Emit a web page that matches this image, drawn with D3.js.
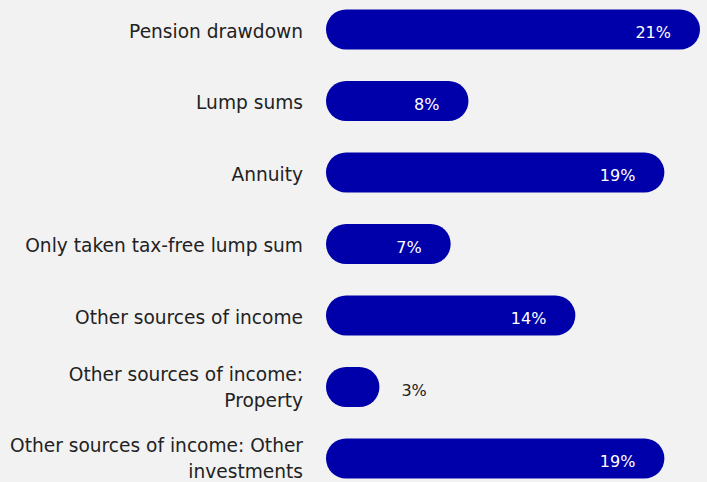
<!DOCTYPE html>
<html>
<head>
<meta charset="utf-8">
<script src="https://cdn.jsdelivr.net/npm/d3@7"></script>
<style>
  html, body { margin: 0; padding: 0; background: #f2f2f2; }
  svg { display: block; }
  text { font-family: "DejaVu Sans", "Open Sans", sans-serif; }
</style>
</head>
<body>
<svg id="chart" width="707" height="482"></svg>
<script>
// Retirement income sources (share of respondents, %)
const categories = [
  "Pension drawdown",
  "Lump sums",
  "Annuity",
  "Only taken tax-free lump sum",
  "Other sources of income",
  "Other sources of income:\nProperty",
  "Other sources of income: Other\ninvestments"
];
const values = [21, 8, 19, 7, 14, 3, 19];
const valueLabels = ["21%", "8%", "19%", "7%", "14%", "3%", "19%"];

const width = 707, height = 482;
const barStart = 326;
const labelRight = 303;
const barColor = "#0000aa";

const svg = d3.select("#chart");

const x = d3.scaleLinear()
  .domain([0, 21])
  .range([barStart, 700]);

const y = d3.scaleBand()
  .domain(categories)
  .range([-6.25, 494.25])
  .paddingInner(0.44)
  .paddingOuter(0.22);

const bh = y.bandwidth();

const rows = svg.selectAll("g.row")
  .data(categories.map((c, i) => ({ c, v: values[i], lbl: valueLabels[i] })))
  .join("g")
  .attr("class", "row");

// bars with fully rounded ends
rows.append("rect")
  .attr("x", x(0))
  .attr("y", d => y(d.c))
  .attr("width", d => x(d.v) - x(0))
  .attr("height", bh)
  .attr("rx", bh / 2)
  .attr("ry", bh / 2)
  .attr("fill", barColor);

// category labels, right-aligned, possibly on two lines
rows.append("text")
  .attr("text-anchor", "end")
  .attr("fill", "#222")
  .attr("font-size", 18.6)
  .each(function(d) {
    const lines = d.c.split("\n");
    const lh = 26;
    const cy = y(d.c) + bh / 2 + (lines.length > 1 ? 0.5 : 2);
    const t = d3.select(this);
    lines.forEach((ln, j) => {
      t.append("tspan")
        .attr("x", labelRight)
        .attr("y", cy + (j - (lines.length - 1) / 2) * lh)
        .attr("dy", "0.33em")
        .text(ln);
    });
  });

// value labels: inside near the end, or outside when the bar is short
rows.append("text")
  .attr("font-size", 16)
  .attr("dy", "0.35em")
  .attr("y", d => y(d.c) + bh / 2 + 3)
  .each(function(d) {
    const inside = (x(d.v) - x(0)) > 80;
    d3.select(this)
      .attr("x", inside ? x(d.v) - 29 : x(d.v) + 22)
      .attr("text-anchor", inside ? "end" : "start")
      .attr("fill", inside ? "#ffffff" : "#222");
  })
  .text(d => d.lbl);
</script>
</body>
</html>
